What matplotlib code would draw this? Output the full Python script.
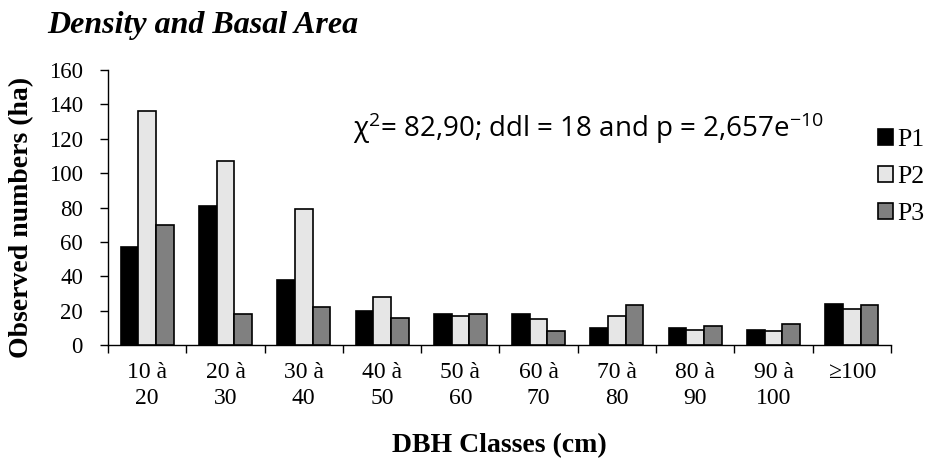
import numpy as np
import matplotlib
matplotlib.use("Agg")
import matplotlib.pyplot as plt
from matplotlib.patches import Patch

# DBH classes and observed numbers per plot
classes = ["10 à\n20", "20 à\n30", "30 à\n40", "40 à\n50", "50 à\n60",
           "60 à\n70", "70 à\n80", "80 à\n90", "90 à\n100", "≥100"]
p1 = [57, 81, 38, 20, 18, 18, 10, 10, 9, 24]
p2 = [136, 107, 79, 28, 17, 15, 17, 9, 8, 21]
p3 = [70, 18, 22, 16, 18, 8, 23, 11, 12, 23]
series_names = ["P1", "P2", "P3"]
colors = ["#000000", "#e6e6e6", "#808080"]

plt.rcParams['font.family'] = ['Liberation Serif', 'DejaVu Serif']
plt.rcParams['mathtext.fontset'] = 'custom'
plt.rcParams['mathtext.rm'] = 'Open Sans'
plt.rcParams['mathtext.it'] = 'Open Sans'

fig = plt.figure(figsize=(9.29, 4.58), dpi=100)
ax = fig.add_axes([108 / 929, 1 - 345 / 458, 783 / 929, 275 / 458])

x = np.arange(len(classes))
w = 0.226
for k, vals in enumerate([p1, p2, p3]):
    ax.bar(x + (k - 1) * w, vals, width=w, color=colors[k],
           edgecolor="black", linewidth=1.2, label=series_names[k], zorder=3)

ax.set_xlim(-0.5, len(classes) - 0.5)
ax.set_ylim(0, 160)
ax.set_yticks(np.arange(0, 161, 20))
ax.set_xticks(np.arange(-0.5, len(classes), 1.0))
ax.set_xticklabels([])
ax.set_xticks(x, minor=True)
ax.set_xticklabels(classes, minor=True, fontsize=17, linespacing=1.28)
ax.tick_params(axis="x", which="minor", length=0, pad=12.5)
ax.tick_params(axis="x", which="major", length=6, width=1, direction="out")
ax.tick_params(axis="y", length=6, width=1, labelsize=16.5, pad=12)
for s in ["top", "right"]:
    ax.spines[s].set_visible(False)
for s in ["left", "bottom"]:
    ax.spines[s].set_linewidth(1)

fig.text(22 / 929, 1 - 217 / 458, "Observed numbers (ha)", fontsize=20,
         fontweight="bold", rotation=90, ha="center", va="center")
fig.text(0.5 * (108 + 891) / 929, 1 - 452 / 458, "DBH Classes (cm)",
         fontsize=20, fontweight="bold", ha="center", va="baseline")

fig.text(47 / 929, 1 - 33 / 458, "Density and Basal Area", fontsize=23,
         fontweight="bold", fontstyle="italic", ha="left", va="baseline")

ax.text((353 - 108) / 783, (345 - 137) / 275,
        r"χ$^{2}$= 82,90; ddl = 18 and p = 2,657e$^{-10}$",
        transform=ax.transAxes, fontsize=20, family=["Open Sans", "DejaVu Sans"],
        ha="left", va="baseline")

handles = [Patch(facecolor=c, edgecolor="black", linewidth=1.2) for c in colors]
leg = fig.legend(handles, series_names, loc="center left",
                 bbox_to_anchor=(878 / 929, 1 - 177 / 458), frameon=False,
                 fontsize=18.5, handlelength=0.6, handleheight=0.6,
                 handletextpad=0.15, labelspacing=0.58, borderpad=0,
                 borderaxespad=0)

fig.savefig("out.png", dpi=100)
